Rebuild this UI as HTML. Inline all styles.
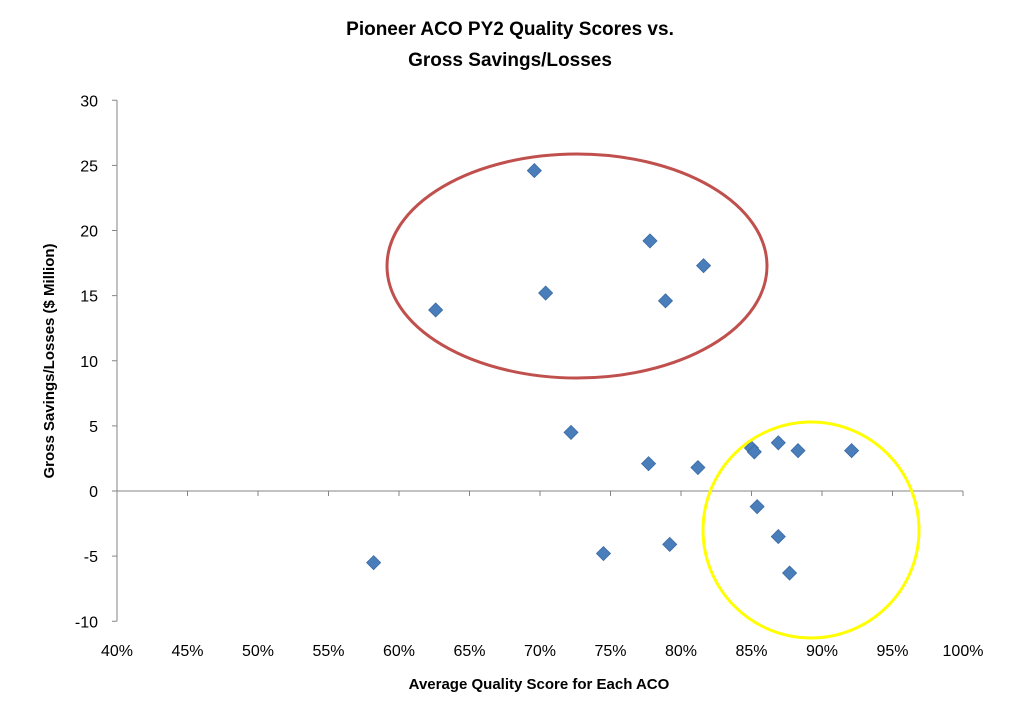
<!DOCTYPE html>
<html><head><meta charset="utf-8"><style>
body{margin:0;background:#fff;}
svg text{font-family:"Liberation Sans",Arial,sans-serif;}
</style></head><body>
<svg id="chart" width="1030" height="702" xmlns="http://www.w3.org/2000/svg">
<rect width="1030" height="702" fill="#fff"/>
<text x="510" y="35" text-anchor="middle" font-size="19" font-weight="bold">Pioneer ACO PY2 Quality Scores vs.</text>
<text x="510" y="66" text-anchor="middle" font-size="19" font-weight="bold">Gross Savings/Losses</text>
<text x="539" y="689" text-anchor="middle" font-size="15" font-weight="bold">Average Quality Score for Each ACO</text>
<text transform="translate(54,361) rotate(-90)" text-anchor="middle" font-size="15" font-weight="bold">Gross Savings/Losses  ($ Million)</text>
<g id="axes"></g>
<g id="marks"></g>
</svg>
<script>
const xVals=[69.6,62.6,70.4,77.8,78.9,81.6,72.2,77.7,81.2,85.0,85.2,86.9,88.3,92.1,85.4,86.9,87.7,79.2,74.5,58.2];
const yVals=[24.6,13.9,15.2,19.2,14.6,17.3,4.5,2.1,1.8,3.3,3.0,3.7,3.1,3.1,-1.2,-3.5,-6.3,-4.1,-4.8,-5.5];
const xTicks=[40,45,50,55,60,65,70,75,80,85,90,95,100];
const yTicks=[-10,-5,0,5,10,15,20,25,30];
const NS="http://www.w3.org/2000/svg";
const X=v=>117+(v-40)*(846/60);
const Y=v=>491-v*(521/40);
const axes=document.getElementById('axes'),marks=document.getElementById('marks');
function mk(t,a,p){const e=document.createElementNS(NS,t);for(const k in a)e.setAttribute(k,a[k]);p.appendChild(e);return e;}
let l=mk('line',{x1:117,y1:Y(30),x2:117,y2:Y(-10),stroke:'#868686'},axes);


l=mk('line',{x1:117,y1:Y(0),x2:X(100),y2:Y(0),stroke:'#868686'},axes);


yTicks.forEach(v=>{
 mk('line',{x1:112,y1:Y(v),x2:117,y2:Y(v),stroke:'#868686'},axes);
 const t=mk('text',{x:98,y:Y(v)+6,'text-anchor':'end','font-size':16},axes);
 t.textContent=v;
 
 
});
xTicks.forEach(v=>{
 mk('line',{x1:X(v),y1:Y(0),x2:X(v),y2:Y(0)+5,stroke:'#868686'},axes);
 const t=mk('text',{x:X(v),y:656,'text-anchor':'middle','font-size':16},axes);
 t.textContent=v+'%';
 
 
});
xVals.forEach((xv,i)=>{
 const cx=X(xv),cy=Y(yVals[i]),s=7;
 const p=mk('polygon',{points:`${cx},${cy-s} ${cx+s},${cy} ${cx},${cy+s} ${cx-s},${cy}`,fill:'#4a7ebb',stroke:'#3a6aa5','stroke-width':0.8},marks);
 
 
});
let e=mk('ellipse',{cx:577,cy:266,rx:190,ry:112,fill:'none',stroke:'#c0504d','stroke-width':3},marks);


e=mk('ellipse',{cx:811,cy:530,rx:108,ry:108,fill:'none',stroke:'#ffff00','stroke-width':3},marks);


</script>
</body></html>
